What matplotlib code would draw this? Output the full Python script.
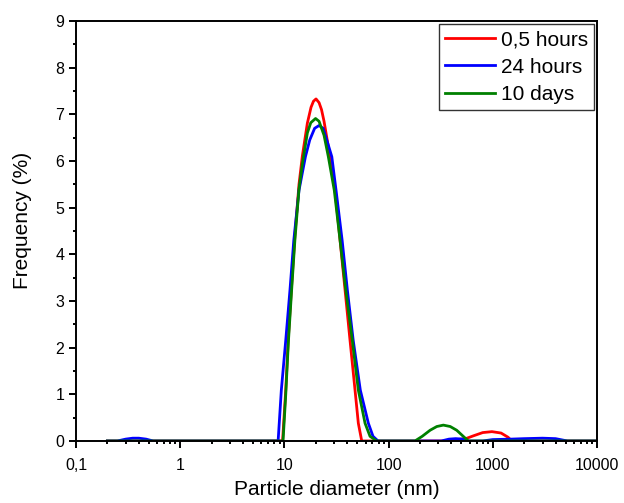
import matplotlib
matplotlib.use('Agg')
import matplotlib.pyplot as plt
from matplotlib.ticker import LogLocator, NullFormatter, MultipleLocator

plt.rcParams['font.family'] = ['Liberation Sans', 'DejaVu Sans']

# particle size distributions (diameter in nm, frequency in %)
size_red = [0.2, 9.6, 10.3, 10.9, 11.7, 12.6, 13.8, 14.85, 16.6, 18.0, 19.0, 20.1, 21.5, 22.7,
            24.0, 27.4, 30.6, 34.2, 38.2, 42.6, 47.6, 51.2, 55.2,
            370, 450, 550, 650, 800, 980, 1200, 1400, 1520, 10000]
freq_red = [0, 0, 1.1, 2.2, 3.3, 4.4, 5.5, 6.1, 6.81, 7.15, 7.28, 7.33, 7.25, 7.1,
            6.85, 6.09, 5.37, 4.30, 3.23, 2.16, 1.09, 0.38, 0,
            0, 0.03, 0.05, 0.11, 0.18, 0.2, 0.17, 0.08, 0, 0]

size_blue = [0.2, 0.25, 0.3, 0.35, 0.4, 0.47, 0.55,
             8.7, 9.34, 10.3, 11.3, 12.3, 13.8, 15.9, 17.5, 19.5, 21.5, 23.5, 25.5,
             28.5, 31.3, 35.8, 40.2, 45.7, 53.5, 63.9, 70.8, 79.1,
             320, 380, 440, 520, 580, 800, 1000, 1500, 2000, 3000, 4000, 5200, 10000]
freq_blue = [0, 0, 0.04, 0.06, 0.06, 0.04, 0,
             0, 1.09, 2.16, 3.23, 4.30, 5.37, 6.09, 6.45, 6.7, 6.76, 6.7, 6.45,
             6.09, 5.37, 4.30, 3.23, 2.16, 1.09, 0.38, 0.1, 0,
             0, 0.04, 0.05, 0.04, 0, 0, 0.03, 0.04, 0.05, 0.06, 0.05, 0, 0]

size_green = [0.2, 9.7, 10.3, 10.9, 11.7, 12.6, 13.8, 14.9, 16.6, 17.9, 19.9, 21.5, 24.0,
              26.4, 30.1, 34.2, 38.8, 44.8, 51.2, 59.4, 66.3, 76.9,
              179, 210, 250, 290, 335, 390, 450, 520, 582, 10000]
freq_green = [0, 0, 1.0, 2.1, 3.2, 4.3, 5.4, 5.95, 6.6, 6.82, 6.91, 6.85, 6.55,
              6.09, 5.37, 4.30, 3.23, 2.16, 1.09, 0.38, 0.1, 0,
              0, 0.1, 0.23, 0.31, 0.34, 0.31, 0.23, 0.1, 0, 0]

labels = ['0,5 hours', '24 hours', '10 days']
xticks = [0.1, 1, 10, 100, 1000, 10000]
xticklabels = ['0,1', '1', '10', '100', '1000', '10000']

fig = plt.figure(figsize=(6.24, 5.03), dpi=100)
ax = fig.add_axes([0.1218, 0.1233, 0.835, 0.835])

ax.plot(size_red, freq_red, color='#ff0000', lw=2, label=labels[0])
ax.plot(size_blue, freq_blue, color='#0000ff', lw=2, label=labels[1])
ax.plot(size_green, freq_green, color='#008000', lw=2, label=labels[2])

ax.set_xscale('log')
ax.set_xlim(0.1, 10000)
ax.set_ylim(0, 9)
ax.set_xticks(xticks)
ax.set_xticklabels(xticklabels)
ax.xaxis.set_minor_locator(LogLocator(base=10, subs=range(2, 10), numticks=20))
ax.xaxis.set_minor_formatter(NullFormatter())
ax.yaxis.set_major_locator(MultipleLocator(1))
ax.yaxis.set_minor_locator(MultipleLocator(0.5))

for s in ax.spines.values():
    s.set_linewidth(1.4)
ax.tick_params(which='both', direction='out', width=1.4, labelsize=11.5)
ax.tick_params(which='major', length=5)
ax.tick_params(which='minor', length=2.5)
ax.tick_params(axis='x', which='major', pad=7)
ax.tick_params(axis='y', which='major', pad=3.5)

ax.set_xlabel('Particle diameter (nm)', fontsize=15)
ax.set_ylabel('Frequency (%)', fontsize=15)
ax.xaxis.set_label_coords(0.5, -0.094)
ax.yaxis.set_label_coords(-0.085, 0.524)

leg = ax.legend(loc='upper right', fontsize=15, frameon=True, fancybox=False,
                edgecolor='black', handlelength=2.4, handletextpad=0.25,
                labelspacing=0.4, borderpad=0.3, borderaxespad=0.15)
leg.get_frame().set_linewidth(1.0)

fig.savefig('out.png', dpi=100)
